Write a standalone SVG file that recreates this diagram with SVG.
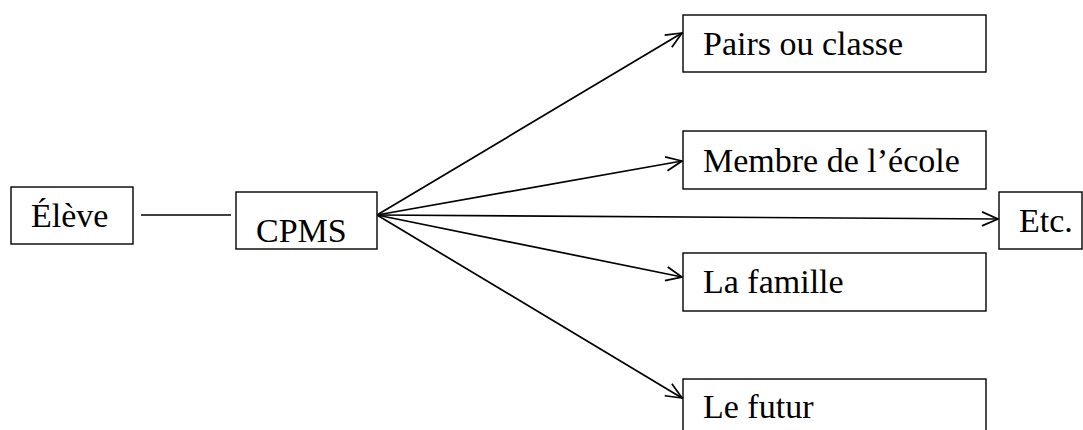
<svg xmlns="http://www.w3.org/2000/svg" width="1083" height="430" viewBox="0 0 1083 430">
<style>
.box{fill:#fff;stroke:#000;stroke-width:1.4}
.t{font-family:"Liberation Serif","DejaVu Serif",serif;font-size:34px;fill:#000}
.c{stroke:#000;stroke-width:1.7;fill:none}
</style>
<defs>
<marker id="arr" markerWidth="20" markerHeight="20" refX="17" refY="8" orient="auto" markerUnits="userSpaceOnUse">
<path d="M1,1 L17,8 L1,15" fill="none" stroke="#000" stroke-width="1.7"/>
</marker>
</defs>
<g id="connectors">
<line class="c" x1="141" y1="215" x2="231" y2="215"/>
<line class="c" x1="377" y1="215" x2="682" y2="33" marker-end="url(#arr)"/>
<line class="c" x1="377" y1="215" x2="682" y2="161" marker-end="url(#arr)"/>
<line class="c" x1="377" y1="215" x2="998" y2="219" marker-end="url(#arr)"/>
<line class="c" x1="377" y1="215" x2="682" y2="277" marker-end="url(#arr)"/>
<line class="c" x1="377" y1="215" x2="682" y2="398" marker-end="url(#arr)"/>
</g>
<g id="eleve"><rect class="box" x="11" y="187" width="122" height="57"/><text class="t" x="31" y="227">Élève</text></g>
<g id="cpms"><rect class="box" x="236" y="192" width="141" height="57"/><text class="t" x="256" y="242">CPMS</text></g>
<g id="pairs"><rect class="box" x="683" y="15" width="303" height="57"/><text class="t" x="703" y="55">Pairs ou classe</text></g>
<g id="membre"><rect class="box" x="683" y="131" width="303" height="58"/><text class="t" x="703" y="172">Membre de l’école</text></g>
<g id="etc"><rect class="box" x="999" y="192" width="83" height="57"/><text class="t" x="1019" y="232">Etc.</text></g>
<g id="famille"><rect class="box" x="683" y="253" width="303" height="58"/><text class="t" x="703" y="293">La famille</text></g>
<g id="futur"><rect class="box" x="683" y="379" width="303" height="60"/><text class="t" x="703" y="418">Le futur</text></g>
</svg>
